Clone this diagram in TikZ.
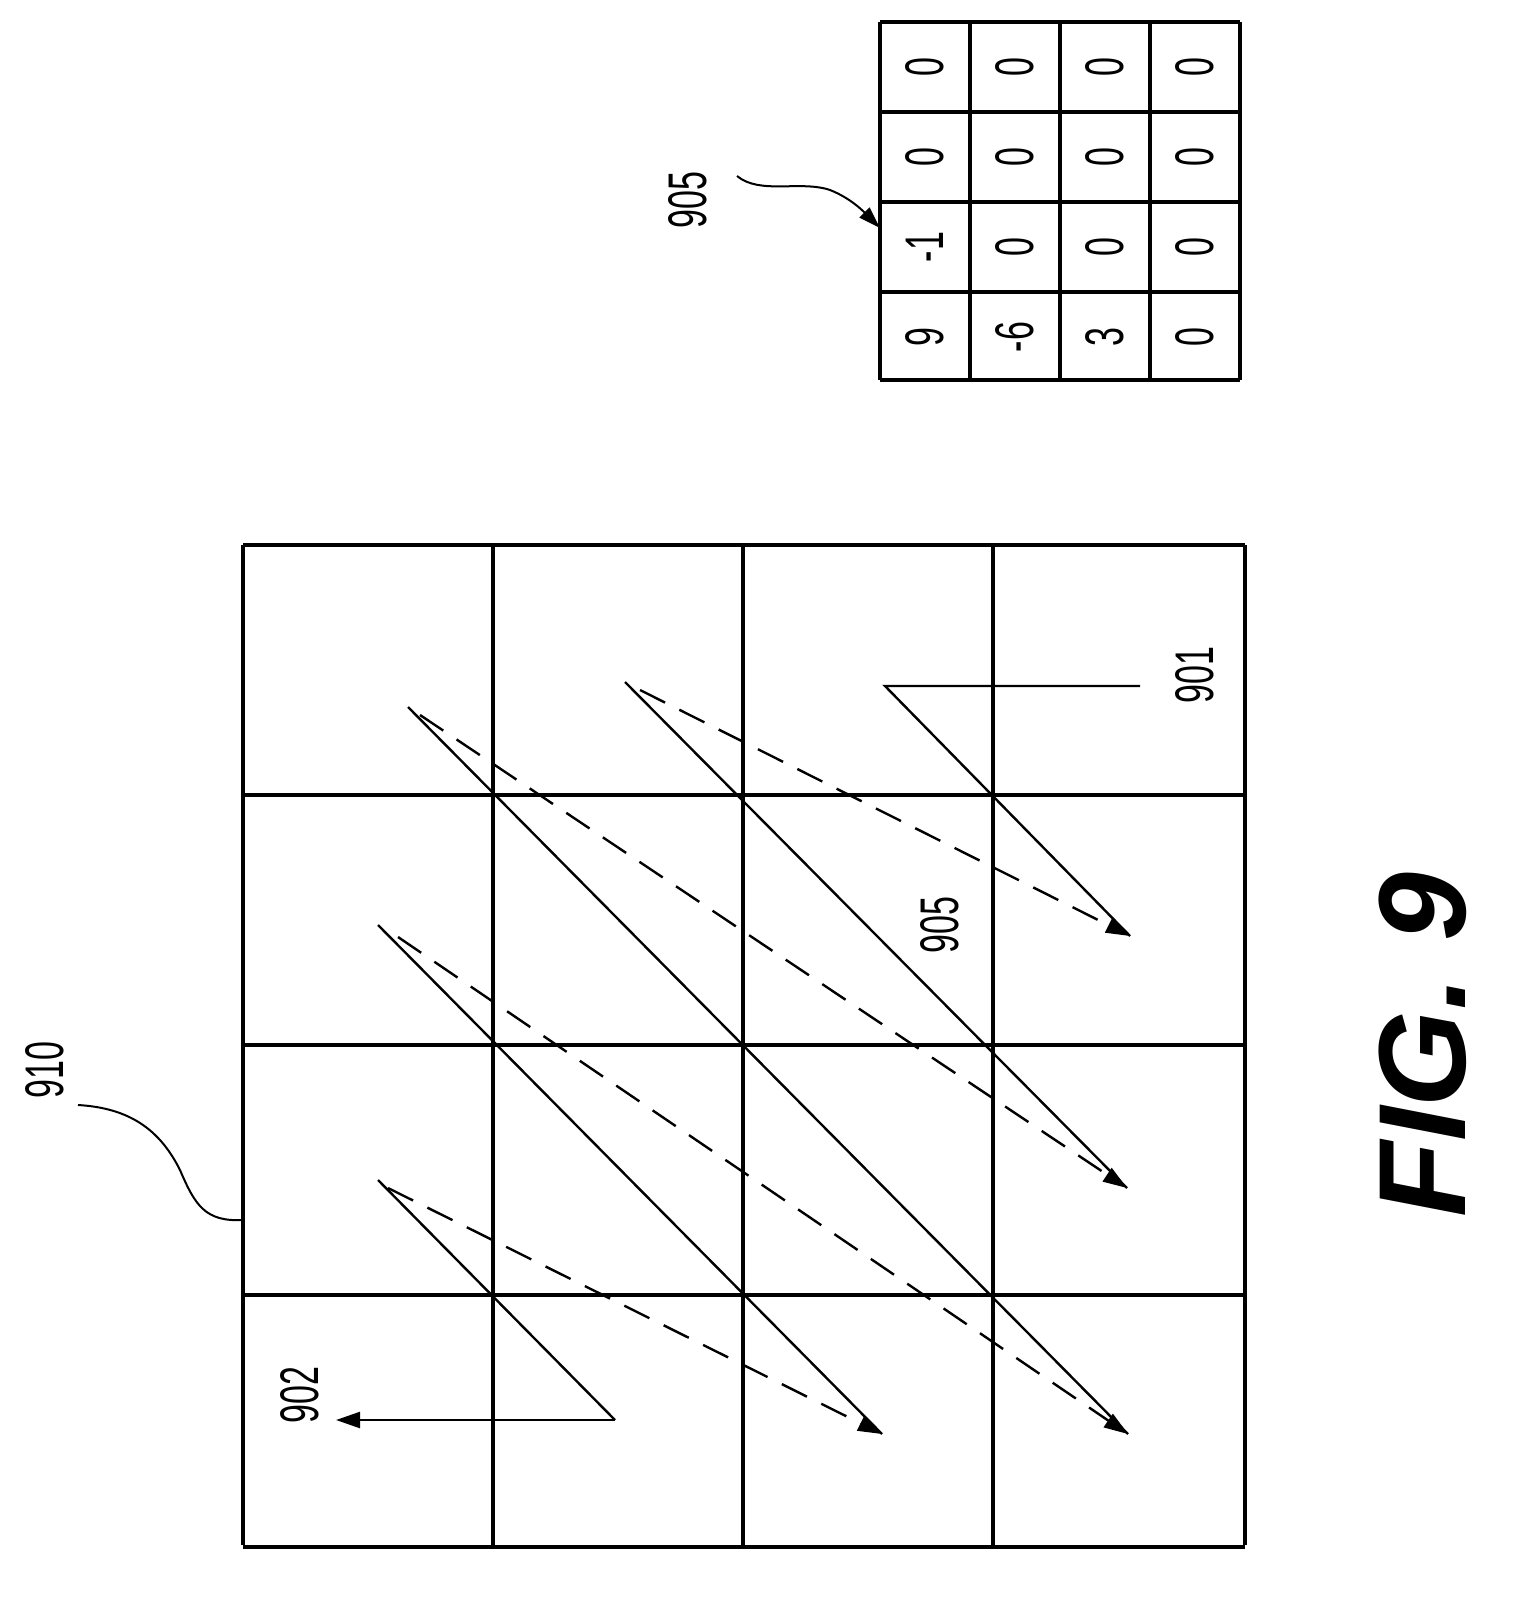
\documentclass[tikz,border=0pt]{standalone}
\usepackage{fontspec}
\setmainfont{Liberation Sans}
\usetikzlibrary{arrows.meta}
\begin{document}
\begin{tikzpicture}[x=0.5pt,y=-0.5pt,
  grid/.style={line width=1.8pt},
  scan/.style={line width=1.2pt},
  ret/.style={line width=1.2pt,dash pattern=on 14pt off 8pt,-{Triangle[length=12pt,width=8pt]}},
  lbl/.style={rotate=90,inner sep=0pt,font=\fontsize{17}{17}\selectfont},
  val/.style={rotate=90,inner sep=0pt,font=\fontsize{17}{17}\selectfont}]
\useasboundingbox (0,0) rectangle (1534,1616);
% big grid
\foreach \v in {243,493,743,993,1245}{
  \draw[grid] (\v,545) -- (\v,1545);
  \draw[grid] (243,\v+302) -- (1245,\v+302);}
% scan lines
\coordinate (s901) at (1140,686);
\coordinate (a0) at (885,686);  \coordinate (a1) at (1130,936);
\coordinate (b0) at (625,682);  \coordinate (b1) at (1127,1188);
\coordinate (c0) at (408,707);  \coordinate (c1) at (1128,1434);
\coordinate (d0) at (378,925);  \coordinate (d1) at (882,1434);
\coordinate (e0) at (378,1180); \coordinate (e1) at (615,1420);
\coordinate (s902) at (336,1420);
\draw[scan] (s901) -- (a0) -- (a1);
\draw[scan] (b0) -- (b1);
\draw[scan] (c0) -- (c1);
\draw[scan] (d0) -- (d1);
\draw[scan] (e0) -- (e1);
\draw[scan,-{Triangle[length=12pt,width=8pt]}] (e1) -- (s902);
\draw[ret] (640,690) -- (a1);
\draw[ret] (420,715) -- (b1);
\draw[ret] (398,937) -- (c1);
\draw[ret] (388,1188) -- (d1);
% labels
\node[lbl] (l901) at (1195,675) {\scalebox{1}[1.6]{901}};
\node[lbl] (l902) at (300,1395) {\scalebox{1}[1.6]{902}};
\node[lbl] (l905b) at (940,925) {\scalebox{1}[1.6]{905}};
\node[lbl] (l910) at (45,1070) {\scalebox{1}[1.6]{910}};
\coordinate (g910) at (243,1220);
\draw[line width=1pt] (78,1105) .. controls (130,1108) and (160,1130) .. (180,1170) .. controls (195,1205) and (205,1222) .. (g910);
% small grid
\foreach \v/\h in {880/22,970/112,1060/202,1150/292,1240/380}{
  \draw[grid] (\v,22) -- (\v,380);
  \draw[grid] (880,\h) -- (1240,\h);}
\foreach \c/\x in {0/925,1/1015,2/1105,3/1195}{
  \foreach \r/\y in {0/67,1/157,2/247,3/337}{
     \node[val] (v\c\r) at (\x,\y) {\scalebox{1}[1.6]{\ifnum\c\r=2 -1\else\ifnum\c\r=3 9\else\ifnum\c\r=13 -6\else\ifnum\c\r=23 3\else 0\fi\fi\fi\fi}};}}
\node[lbl] (l905) at (688,200) {\scalebox{1}[1.6]{905}};
\coordinate (g905) at (880,228);
\draw[line width=1pt,-{Triangle[length=11pt,width=7pt]}] (737,176) .. controls (760,195) and (800,180) .. (830,190) .. controls (850,198) and (862,210) .. (g905);
\node[rotate=90,inner sep=0pt,font=\fontsize{62}{62}\selectfont\bfseries\itshape] (fig) at (1423,1045) {FIG. 9};
\end{tikzpicture}
\end{document}
